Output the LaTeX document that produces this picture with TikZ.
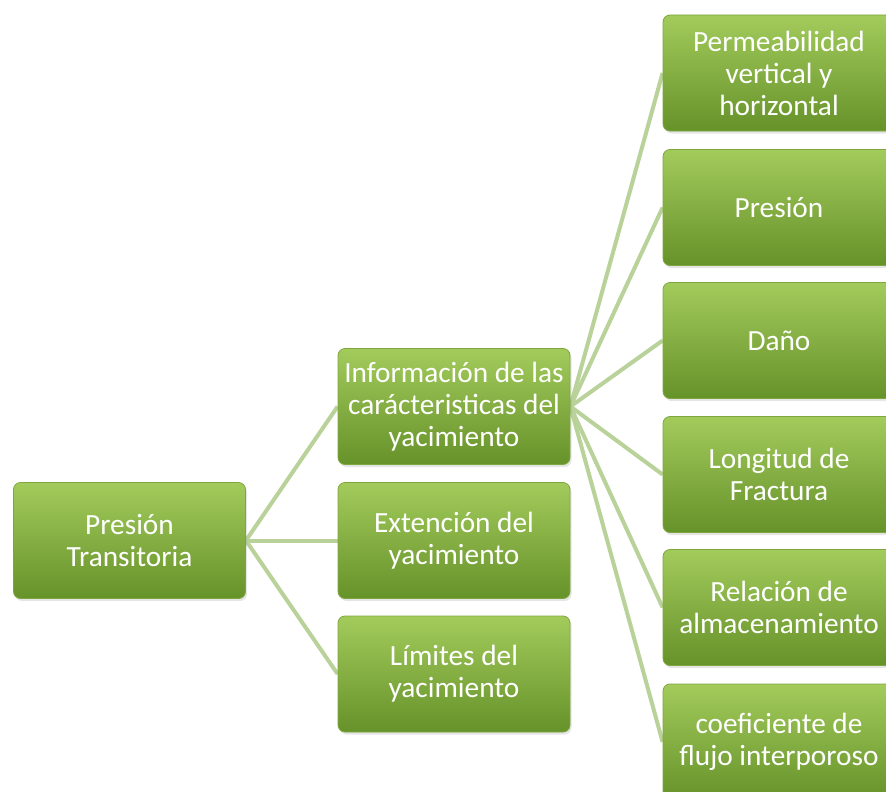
\documentclass[tikz,border=0pt]{standalone}
\usepackage{fontspec}
\setmainfont{Carlito}
\usetikzlibrary{backgrounds,shadows}
\definecolor{boxtop}{HTML}{A3CB5C}
\definecolor{boxbot}{HTML}{66922A}
\definecolor{boxedge}{HTML}{7FA63E}
\definecolor{linkcol}{HTML}{B9D29A}
\tikzset{
  gbox/.style={rounded corners=7pt, top color=boxtop, bottom color=boxbot,
    draw=boxedge, line width=0.8pt, text=white, align=center,
    font=\fontsize{29.3}{32}\selectfont, minimum width=232pt, minimum height=116pt,
    inner sep=1pt, drop shadow={opacity=0.2, shadow xshift=1.5pt, shadow yshift=-2.5pt}},
  link/.style={draw=linkcol, line width=4pt}
}
\begin{document}
\begin{tikzpicture}[x=1pt,y=-1pt]
\useasboundingbox (0,0) rectangle (886,792);
\clip (0,0) rectangle (886,792);
\node[gbox] (root) at (129.5,540.5) {Presión\\Transitoria};
\node[gbox] (m1) at (454,406.5) {Información de las\\carácteristicas del\\yacimiento};
\node[gbox] (m2) at (454,540.5) {Extención del\\yacimiento};
\node[gbox] (m3) at (454,674) {Límites del\\yacimiento};
\node[gbox] (r1) at (779,73) {Permeabilidad\\vertical y\\horizontal};
\node[gbox] (r2) at (779,207.5) {Presión};
\node[gbox] (r3) at (779,340.5) {Daño};
\node[gbox] (r4) at (779,474.5) {Longitud de\\Fractura};
\node[gbox] (r5) at (779,607.5) {Relación de\\almacenamiento};
\node[gbox] (r6) at (779,742) {coeficiente de\\flujo interporoso};
\begin{scope}[on background layer]
\fill[white] (0,0) rectangle (886,792);
\foreach \m in {m1,m2,m3} \draw[link] (root.east) -- (\m.west);
\foreach \r in {r1,r2,r3,r4,r5,r6} \draw[link] (m1.east) -- (\r.west);
\end{scope}
\end{tikzpicture}
\end{document}
